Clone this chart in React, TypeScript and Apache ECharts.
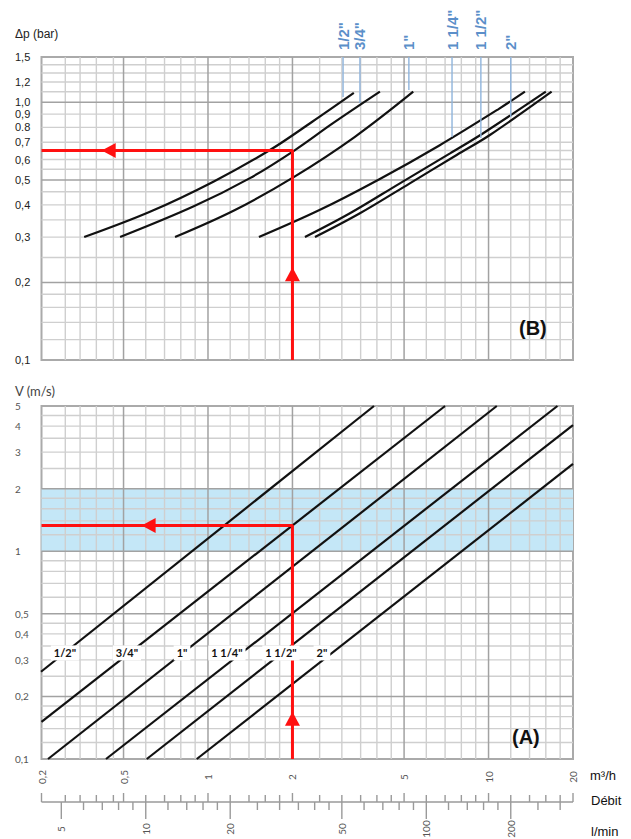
import React, { useEffect, useRef } from 'react';
import * as echarts from 'echarts';

// ---------------- data ----------------
const Q_RANGE = [0.255, 20]; // flow axis (m3/h), left edge labelled "0,2" in the original
const DP_RANGE = [0.1, 1.5]; // Δp (bar)
const V_RANGE = [0.1, 5]; // V (m/s)

const SIZES = ['1/2"', '3/4"', '1"', '1 1/4"', '1 1/2"', '2"'];

const X_MAJOR = [0.5, 1, 2, 5, 10];
const X_MINOR = [0.31, 0.35, 0.4, 0.46, 0.6, 0.7, 0.8, 0.9, 1.2, 1.4, 1.6, 1.8, 2.5, 3, 3.5, 4, 4.5, 6, 7, 8, 9, 12, 14, 16, 18];

const DP_MAJOR = [0.2, 0.5, 1.0];
const DP_MINOR = [0.12, 0.14, 0.16, 0.18, 0.25, 0.3, 0.35, 0.4, 0.45, 0.55, 0.6, 0.65, 0.7, 0.8, 0.9, 1.1, 1.2, 1.3, 1.4];
const V_MAJOR = [0.2, 0.5, 1, 2];
const V_MINOR = [0.12, 0.14, 0.16, 0.18, 0.25, 0.3, 0.35, 0.4, 0.45, 0.6, 0.7, 0.8, 0.9, 1.2, 1.4, 1.6, 1.8, 2.5, 3, 3.5, 4, 4.5];

const DP_TICKS = [1.5, 1.2, 1.0, 0.9, 0.8, 0.7, 0.6, 0.5, 0.4, 0.3, 0.2, 0.1];
const DP_TICK_LABELS = ['1,5', '1,2', '1,0', '0,9', '0.8', '0,7', '0,6', '0,5', '0,4', '0,3', '0,2', '0,1'];
const V_TICKS = [5, 4, 3, 2, 1, 0.5, 0.4, 0.3, 0.2, 0.1];
const V_TICK_LABELS = ['5', '4', '3', '2', '1', '0,5', '0,4', '0,3', '0,2', '0,1'];
const Q_TICKS = [0.255, 0.5, 1, 2, 5, 10, 20];
const Q_TICK_LABELS = ['0,2', '0,5', '1', '2', '5', '10', '20'];

const LMIN_MAJOR = [5, 10, 20, 50, 100, 200];
const LMIN_LABELS = ['5', '10', '20', '50', '100', '200'];
const LMIN_MINOR = [6, 7, 8, 9, 12, 14, 16, 18, 25, 30, 35, 40, 45, 60, 70, 80, 90, 120, 140, 160, 180, 250, 300];
const M3H_PER_LMIN = 0.06;

// (B) pressure-drop curves: [Q m3/h, Δp bar]
const DP_CURVES: [number, number][][] = [
  [[0.362, 0.3], [0.621, 0.376], [1.045, 0.492], [1.663, 0.653], [2.346, 0.839], [3.31, 1.088]],
  [[0.486, 0.3], [0.886, 0.394], [1.411, 0.508], [2.03, 0.65], [2.79, 0.83], [4.1, 1.1]],
  [[0.763, 0.3], [1.248, 0.382], [2.041, 0.516], [3.34, 0.735], [5.39, 1.1]],
  [[1.519, 0.3], [2.486, 0.381], [4.067, 0.502], [6.655, 0.679], [10.89, 0.944], [13.48, 1.1]],
  [[2.216, 0.3], [3.206, 0.371], [4.83, 0.485], [7.29, 0.634], [9.57, 0.759], [16.0, 1.1]],
  [[2.406, 0.3], [3.48, 0.371], [5.24, 0.485], [7.7, 0.625], [10.11, 0.747], [16.78, 1.1]],
];
// blue size markers of chart (B): [Q, Δp at lower end]
const DP_MARKERS: [number, number][] = [[3.03, 1.05], [3.48, 0.995], [5.2, 1.117], [7.41, 0.734], [9.39, 0.727], [12.0, 0.878]];

// (A) velocity lines: [Q m3/h, V m/s]
const V_LINES: [number, number][][] = [
  [[0.254, 0.263], [3.905, 5]],
  [[0.255, 0.151], [7.0, 5]],
  [[0.269, 0.1], [10.7, 5]],
  [[0.433, 0.1], [17.6, 5]],
  [[0.605, 0.1], [20, 4.05]],
  [[0.912, 0.1], [20, 2.63]],
];
const V_LABEL_POS: [number, number][] = [[0.309, 0.324], [0.514, 0.324], [0.808, 0.324], [1.168, 0.324], [1.82, 0.324], [2.548, 0.324]];
const V_BAND = [1, 2];

// worked example
const EX_Q = 2;
const EX_DP = 0.65;
const EX_V = 1.33;
const ARROWS_B: [number, number, string][] = [[2, 0.229, 'up'], [0.418, 0.65, 'left']];
const ARROWS_A: [number, number, string][] = [[2, 0.169, 'up'], [0.58, 1.33, 'left']];

// ---------------- helpers ----------------
const MINOR_C = '#cfcfcf';
const MAJOR_C = '#a2a2a2';
const FONT_A = 'Liberation Sans, Arial, sans-serif';
const FONT_B = 'Lato, "DejaVu Sans", sans-serif';

function gridLines(gi: number, vals: number[], dir: 'v' | 'h', xr: number[], yr: number[], color: string, width: number, z: number) {
  return {
    type: 'custom',
    xAxisIndex: gi,
    yAxisIndex: gi,
    silent: true,
    z,
    data: vals.map((v) => (dir === 'v' ? [v, yr[0]] : [xr[0], v])),
    renderItem: (params: any, api: any) => {
      const v = dir === 'v' ? api.value(0) : api.value(1);
      const p1 = dir === 'v' ? api.coord([v, yr[0]]) : api.coord([xr[0], v]);
      const p2 = dir === 'v' ? api.coord([v, yr[1]]) : api.coord([xr[1], v]);
      return {
        type: 'line',
        shape: { x1: p1[0], y1: p1[1], x2: p2[0], y2: p2[1] },
        style: { stroke: color, lineWidth: width },
      };
    },
  };
}

interface LabelOpts {
  gi: number;
  data: number[][];
  labels: string[];
  dx?: number;
  dy?: number;
  absX?: number;
  rotation?: number;
  align?: string;
  vAlign?: string;
  fontSize: number;
  fontFamily: string;
  fontWeight?: string;
  color: string;
  bg?: string;
  z?: number;
}

function labelSeries(o: LabelOpts) {
  return {
    type: 'custom',
    xAxisIndex: o.gi,
    yAxisIndex: o.gi,
    silent: true,
    z: o.z ?? 6,
    data: o.data,
    renderItem: (params: any, api: any) => {
      const p = api.coord([api.value(0), api.value(1)]);
      const x = o.absX !== undefined ? o.absX : p[0] + (o.dx || 0);
      const y = p[1] + (o.dy || 0);
      const style: any = {
        text: o.labels[params.dataIndex],
        fill: o.color,
        fontSize: o.fontSize,
        fontFamily: o.fontFamily,
        fontWeight: o.fontWeight || 'normal',
        align: o.align || 'left',
        verticalAlign: o.vAlign || 'middle',
        textAlign: o.align || 'left',
        textVerticalAlign: o.vAlign || 'middle',
      };
      if (o.bg) {
        style.backgroundColor = o.bg;
        style.padding = [2, 3];
      }
      return { type: 'text', x, y, rotation: o.rotation || 0, style };
    },
  };
}

function arrowSeries(gi: number, arrows: [number, number, string][]) {
  return {
    type: 'custom',
    xAxisIndex: gi,
    yAxisIndex: gi,
    silent: true,
    z: 5,
    data: arrows.map((a) => [a[0], a[1]]),
    renderItem: (params: any, api: any) => {
      const p = api.coord([api.value(0), api.value(1)]);
      const dir = arrows[params.dataIndex][2];
      const L = 14;
      const W = 7.5;
      const pts =
        dir === 'up'
          ? [[p[0], p[1]], [p[0] - W, p[1] + L], [p[0] + W, p[1] + L]]
          : [[p[0], p[1]], [p[0] + L, p[1] - W], [p[0] + L, p[1] + W]];
      return { type: 'polygon', shape: { points: pts }, style: { fill: '#ff1010' } };
    },
  };
}

function lineSeries(gi: number, data: number[][], color: string, width: number, z: number, smooth: number | boolean = false) {
  return {
    type: 'line',
    xAxisIndex: gi,
    yAxisIndex: gi,
    data,
    symbol: 'none',
    showSymbol: false,
    smooth,
    silent: true,
    clip: false,
    z,
    lineStyle: { color, width, cap: 'butt' },
  };
}

function buildOption() {
  const series: any[] = [];

  // blue band (A)
  series.push({
    type: 'custom',
    xAxisIndex: 1,
    yAxisIndex: 1,
    silent: true,
    z: 1,
    data: [[Q_RANGE[0], V_BAND[0], V_BAND[1]]],
    renderItem: (params: any, api: any) => {
      const p1 = api.coord([Q_RANGE[0], api.value(2)]);
      const p2 = api.coord([Q_RANGE[1], api.value(1)]);
      return {
        type: 'rect',
        shape: { x: p1[0], y: p1[1], width: p2[0] - p1[0], height: p2[1] - p1[1] },
        style: { fill: '#c4e7f7' },
      };
    },
  });

  // grid lines
  series.push(gridLines(0, X_MINOR, 'v', Q_RANGE, DP_RANGE, MINOR_C, 1.4, 2));
  series.push(gridLines(0, DP_MINOR, 'h', Q_RANGE, DP_RANGE, MINOR_C, 1.4, 2));
  series.push(gridLines(0, X_MAJOR, 'v', Q_RANGE, DP_RANGE, MAJOR_C, 1.5, 2));
  series.push(gridLines(0, DP_MAJOR, 'h', Q_RANGE, DP_RANGE, MAJOR_C, 1.5, 2));
  series.push(gridLines(1, X_MINOR, 'v', Q_RANGE, V_RANGE, MINOR_C, 1.4, 2));
  series.push(gridLines(1, V_MINOR, 'h', Q_RANGE, V_RANGE, MINOR_C, 1.4, 2));
  series.push(gridLines(1, X_MAJOR, 'v', Q_RANGE, V_RANGE, MAJOR_C, 1.5, 2));
  series.push(gridLines(1, V_MAJOR, 'h', Q_RANGE, V_RANGE, MAJOR_C, 1.5, 2));

  // (B) curves
  DP_CURVES.forEach((c) => series.push(lineSeries(0, c, '#111', 2.2, 3, 0.35)));
  // (B) blue markers
  DP_MARKERS.forEach((m) => series.push(lineSeries(0, [[m[0], DP_RANGE[1]], [m[0], m[1]]], '#8fb4dc', 1.4, 3)));
  // (B) red example
  series.push(lineSeries(0, [[EX_Q, DP_RANGE[0]], [EX_Q, EX_DP], [Q_RANGE[0], EX_DP]], '#ff1010', 3, 4));
  series.push(arrowSeries(0, ARROWS_B));

  // (A) lines
  V_LINES.forEach((l) => series.push(lineSeries(1, l, '#111', 2.2, 3)));
  series.push(lineSeries(1, [[EX_Q, V_RANGE[0]], [EX_Q, EX_V], [Q_RANGE[0], EX_V]], '#ff1010', 3, 4));
  series.push(arrowSeries(1, ARROWS_A));

  // labels on (A) lines with white background
  series.push(
    labelSeries({
      gi: 1, data: V_LABEL_POS, labels: SIZES, align: 'center', fontSize: 11, fontWeight: 'bold',
      fontFamily: FONT_B, color: '#111', bg: '#ffffff', z: 7,
    })
  );

  // size labels above (B)
  series.push(
    labelSeries({
      gi: 0, data: DP_MARKERS.map((m) => [m[0], DP_RANGE[1]]), labels: SIZES, dy: -7,
      rotation: Math.PI / 2, align: 'left', fontSize: 15, fontWeight: 'bold', fontFamily: FONT_A, color: '#5b8fc9',
    })
  );

  // y tick labels
  series.push(
    labelSeries({
      gi: 0, data: DP_TICKS.map((v) => [Q_RANGE[0], v]), labels: DP_TICK_LABELS, absX: 15,
      fontSize: 11, fontFamily: FONT_A, color: '#222',
    })
  );
  series.push(
    labelSeries({
      gi: 1, data: V_TICKS.map((v) => [Q_RANGE[0], v]), labels: V_TICK_LABELS, absX: 15,
      fontSize: 10, fontFamily: FONT_B, color: '#555',
    })
  );
  // x tick labels (m3/h)
  series.push(
    labelSeries({
      gi: 1, data: Q_TICKS.map((q) => [q, V_RANGE[0]]), labels: Q_TICK_LABELS, dy: 18,
      rotation: Math.PI / 2, align: 'center', fontSize: 10, fontFamily: FONT_B, color: '#555',
    })
  );

  // Débit double axis
  series.push(lineSeries(2, [[Q_RANGE[0], 0], [Q_RANGE[1], 0]], '#9a9a9a', 1.5, 3));
  const upTicks = [Q_RANGE[0], ...X_MINOR, ...X_MAJOR, Q_RANGE[1]];
  const downTicks = [...LMIN_MINOR.map((l) => l * M3H_PER_LMIN), ...LMIN_MAJOR.map((l) => l * M3H_PER_LMIN)];
  series.push({
    type: 'custom',
    xAxisIndex: 2,
    yAxisIndex: 2,
    silent: true,
    z: 3,
    data: [...upTicks.map((q) => [q, 0]), ...downTicks.map((q) => [q, 0])],
    renderItem: (params: any, api: any) => {
      const i = params.dataIndex;
      const p = api.coord([api.value(0), 0]);
      let y2: number;
      if (i < upTicks.length) {
        const q = upTicks[i];
        const big = X_MAJOR.includes(q) || q === Q_RANGE[0] || q === Q_RANGE[1];
        y2 = p[1] - (big ? 9 : 7);
      } else {
        const j = i - upTicks.length;
        y2 = p[1] + (j >= LMIN_MINOR.length ? 17 : 8);
      }
      return {
        type: 'line',
        shape: { x1: p[0], y1: p[1], x2: p[0], y2 },
        style: { stroke: '#9a9a9a', lineWidth: 1.4 },
      };
    },
  });
  series.push(
    labelSeries({
      gi: 2, data: LMIN_MAJOR.map((l) => [l * M3H_PER_LMIN, 0]), labels: LMIN_LABELS, dy: 27,
      rotation: Math.PI / 2, align: 'center', fontSize: 10, fontFamily: FONT_B, color: '#555',
    })
  );

  const logX = (gi: number) => ({ type: 'log', logBase: 10, gridIndex: gi, min: Q_RANGE[0], max: Q_RANGE[1], show: false });

  return {
    animation: false,
    backgroundColor: '#ffffff',
    grid: [
      { left: 41.5, right: 58, top: 57, height: 303, show: true, borderColor: '#aaaaaa', borderWidth: 2, backgroundColor: 'rgba(0,0,0,0)' },
      { left: 41.5, right: 58, top: 406, height: 353, show: true, borderColor: '#aaaaaa', borderWidth: 2, backgroundColor: 'rgba(0,0,0,0)' },
      { left: 41.5, right: 58, top: 792, height: 20, show: false },
    ],
    xAxis: [logX(0), logX(1), logX(2)],
    yAxis: [
      { type: 'log', logBase: 10, gridIndex: 0, min: DP_RANGE[0], max: DP_RANGE[1], show: false },
      { type: 'log', logBase: 10, gridIndex: 1, min: V_RANGE[0], max: V_RANGE[1], show: false },
      { type: 'value', gridIndex: 2, min: -1, max: 1, show: false },
    ],
    graphic: [
      { type: 'text', z: 100, left: 15, top: 28, style: { text: 'Δp (bar)', fontSize: 12, fontFamily: FONT_A, fill: '#222' } },
      { type: 'text', z: 100, left: 15, top: 384, style: { text: 'V (m/s)', fontSize: 13, fontFamily: FONT_B, fill: '#444' } },
      { type: 'text', z: 100, left: 519, top: 318, style: { text: '(B)', fontSize: 20, fontWeight: 'bold', fontFamily: FONT_A, fill: '#111' } },
      { type: 'text', z: 100, left: 512, top: 727, style: { text: '(A)', fontSize: 20, fontWeight: 'bold', fontFamily: FONT_A, fill: '#111' } },
      { type: 'text', z: 100, left: 590, top: 769, style: { text: 'm³/h', fontSize: 13, fontFamily: FONT_A, fill: '#111' } },
      { type: 'text', z: 100, left: 591, top: 794, style: { text: 'Débit', fontSize: 13, fontFamily: FONT_A, fill: '#111' } },
      { type: 'text', z: 100, left: 591, top: 825, style: { text: 'l/min', fontSize: 13, fontFamily: FONT_A, fill: '#111' } },
    ],
    series,
  };
}

export default function App() {
  const ref = useRef<HTMLDivElement>(null);
  useEffect(() => {
    if (!ref.current) return;
    const chart = echarts.init(ref.current, null, { renderer: 'svg' });
    chart.setOption(buildOption() as any);
    return () => chart.dispose();
  }, []);
  return (
    <div
      ref={ref}
      style={{ position: 'fixed', left: 0, top: 0, width: 631, height: 839, background: '#fff' }}
    />
  );
}
